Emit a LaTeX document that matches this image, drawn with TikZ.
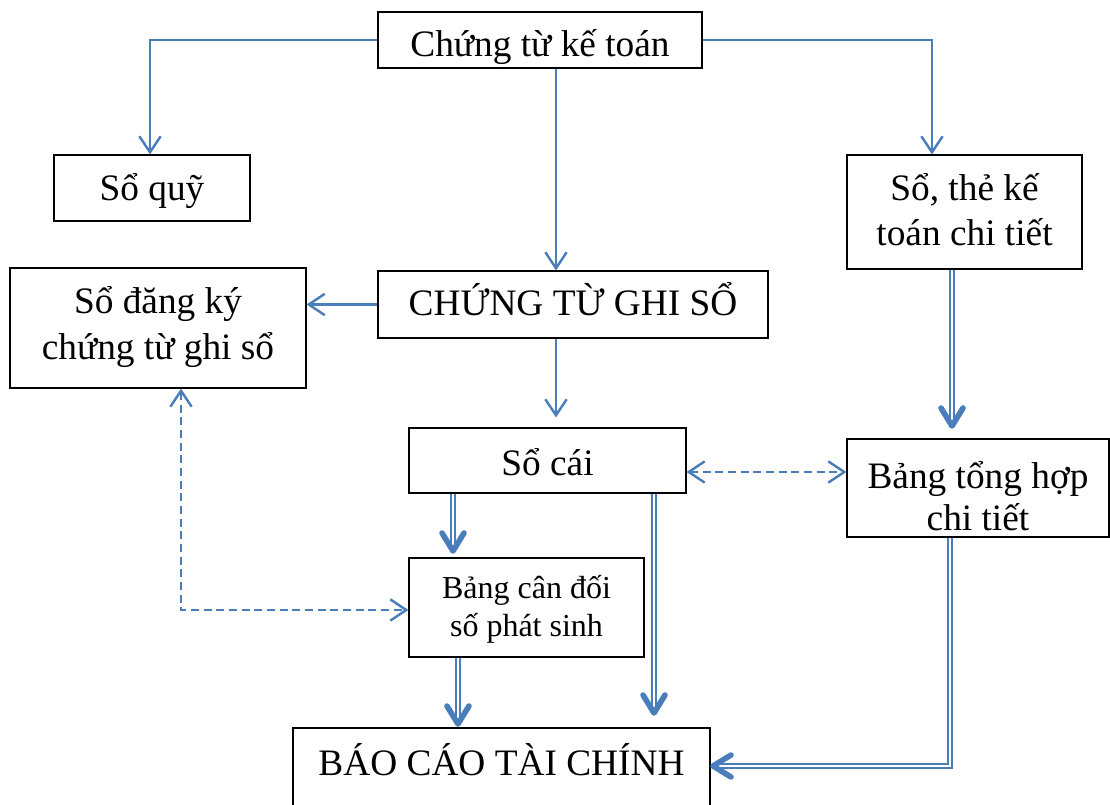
\documentclass[tikz,border=0pt]{standalone}
\usepackage{fontspec}
\setmainfont{Liberation Serif}
\usetikzlibrary{arrows.meta,calc}
\definecolor{flow}{RGB}{74,126,187}
% move a line of text down without changing its box
\newcommand\dropline[2]{\raisebox{-#1}[\height][\depth]{#2}}

\begin{document}
\begin{tikzpicture}[x=0.75pt,y=-0.75pt,
  box/.style={draw=black, line width=0.9pt, inner sep=0pt, align=center,
    font=\fontsize{28}{34.5}\selectfont},
  smallbox/.style={box, font=\fontsize{24}{28.5}\selectfont},
  barb/.tip={Straight Barb[length=12pt,width=16pt]},
  link/.style={draw=flow, line width=1.8pt, -barb},
  dlink/.style={draw=flow, line width=1.8pt, dash pattern=on 6pt off 3.5pt, barb-barb},
  dbl/.style={draw=flow, line width=1.5pt, double=white, double distance=1.6pt},
  head/.style={draw=flow, line width=4.2pt, line cap=round, line join=round},
]
\useasboundingbox (0,0) rectangle (1110,805);
\clip (0,0) rectangle (1110,805);

% boxes
\node[box, minimum width=243pt, minimum height=42pt] (ctkt) at (540,40)
  {\dropline{5pt}{Chứng từ kế toán}};
\node[box, minimum width=147pt, minimum height=49.5pt] (soquy) at (152,188)
  {\dropline{2pt}{Sổ quỹ}};
\node[box, minimum width=176.25pt, minimum height=85.5pt, font=\fontsize{28}{33.75}\selectfont] (sothe) at (964.5,212)
  {\dropline{-1.5pt}{Sổ, thẻ kế}\\\dropline{-1.5pt}{toán chi tiết}};
\node[box, minimum width=222pt, minimum height=90pt] (sodk) at (158,328)
  {\dropline{-1pt}{Sổ đăng ký}\\\dropline{-1pt}{chứng từ ghi sổ}};
\node[box, minimum width=292.5pt, minimum height=50.25pt] (ctgs) at (573,304.5)
  {\dropline{-4pt}{CHỨNG TỪ GHI SỔ}};
\node[box, minimum width=207.75pt, minimum height=48.75pt] (socai) at (547.5,460.5)
  {\dropline{1.5pt}{Sổ cái}};
\node[box, minimum width=196.5pt, minimum height=73.5pt, font=\fontsize{28}{31.5}\selectfont] (bangth) at (978,488)
  {\dropline{6pt}{Bảng tổng hợp}\\\dropline{6pt}{chi tiết}};
\node[smallbox, minimum width=176.25pt, minimum height=74.25pt] (bcd) at (526.5,607.5)
  {\dropline{1.5pt}{Bảng cân đối}\\\dropline{1.5pt}{số phát sinh}};
\node[box, minimum width=312.75pt, minimum height=63pt, text depth=24pt] (bctc) at (501.5,770)
  {\dropline{4pt}{BÁO CÁO TÀI CHÍNH}};

% guide columns for the connectors
\coordinate (mx) at (556,0);
\coordinate (qx) at (150,0);
\coordinate (tx) at (932,0);
\coordinate (dx) at (181,0);
\coordinate (hy) at (0,472);

% single arrows
\draw[link] (ctkt.west) -| (soquy.north -| qx);
\draw[link] (ctkt.east) -| (sothe.north -| tx);
\draw[link] (ctkt.south -| mx) -- (ctgs.north -| mx);
\draw[link] (ctgs.west) -- (ctgs.west -| sodk.east);
\draw[link, shorten >=7.5pt] (ctgs.south -| mx) -- (socai.north -| mx);

% dashed two-way links
\draw[dlink] (socai.east |- hy) -- (bangth.west |- hy);
\draw[dlink] (sodk.south -| dx) |- (bcd.west |- 0,610);

% double arrows with heavy heads
\coordinate (va) at (453,551);
\coordinate (vb) at (654,713);
\coordinate (vc) at (458,724);
\coordinate (vd) at (952,426);
\coordinate (ve) at (713,766);

\draw[dbl] (socai.south -| va) -- ($(va)+(0,-3)$);
\draw[head] ($(va)+(-11,-18)$) -- (va) -- ($(va)+(11,-18)$);

\draw[dbl] (socai.south -| vb) -- ($(vb)+(0,-3)$);
\draw[head] ($(vb)+(-11,-18)$) -- (vb) -- ($(vb)+(11,-18)$);

\draw[dbl] (bcd.south -| vc) -- ($(vc)+(0,-3)$);
\draw[head] ($(vc)+(-11,-18)$) -- (vc) -- ($(vc)+(11,-18)$);

\draw[dbl] (sothe.south -| vd) -- ($(vd)+(0,-3)$);
\draw[head] ($(vd)+(-11,-18)$) -- (vd) -- ($(vd)+(11,-18)$);

\draw[dbl] (bangth.south -| 950,0) |- ($(ve)+(3,0)$);
\draw[head] ($(ve)+(18,-11)$) -- (ve) -- ($(ve)+(18,11)$);
\end{tikzpicture}
\end{document}
